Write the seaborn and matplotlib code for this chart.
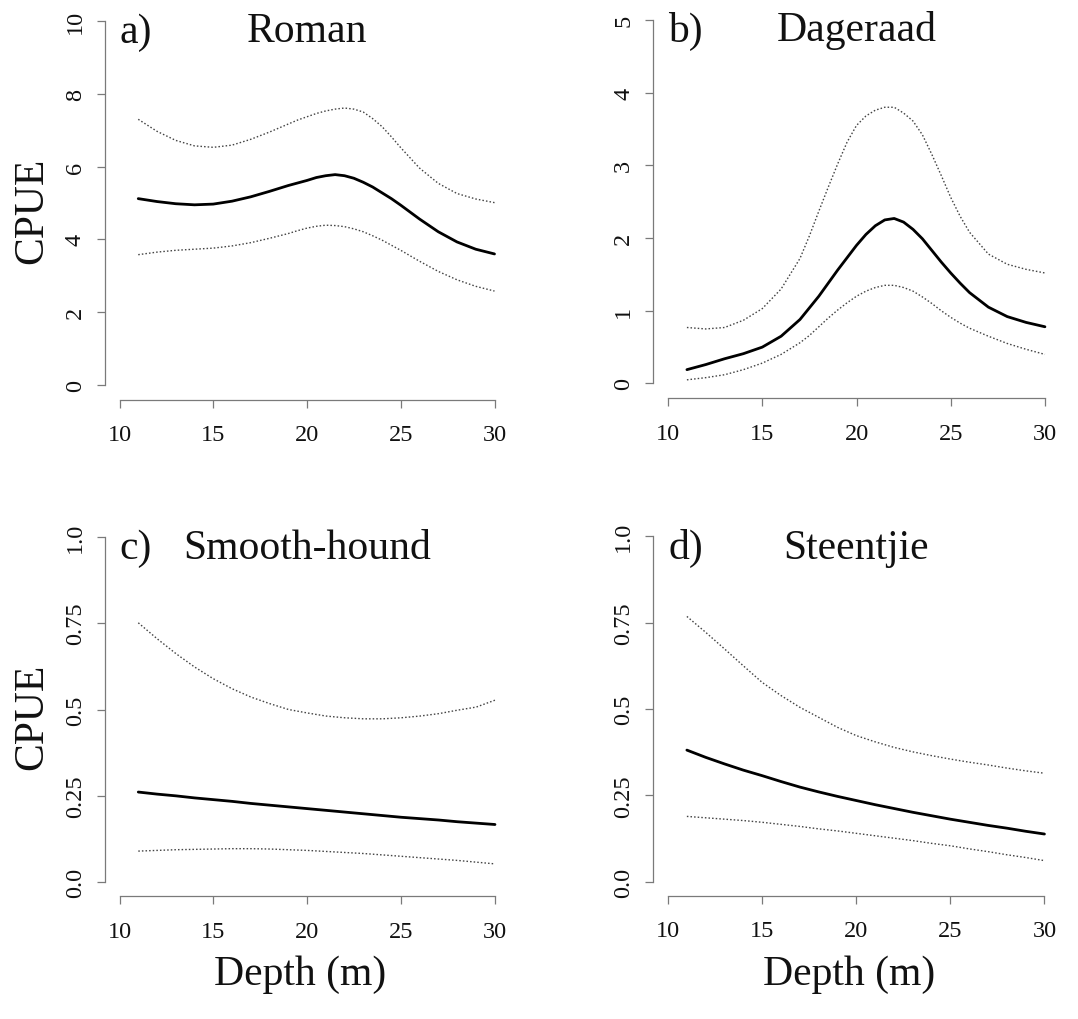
import matplotlib
matplotlib.use("Agg")
import matplotlib.pyplot as plt
import matplotlib.transforms as mtransforms
import pandas as pd
import seaborn as sns

depth_a = [11, 12, 13, 14, 15, 16, 17, 18, 19, 19.5, 20, 20.5, 21, 21.5, 22,
           22.5, 23, 23.5, 24, 24.5, 25, 26, 27, 28, 29, 30]
depth_b = [11, 12, 13, 14, 15, 16, 17, 17.5, 18, 18.5, 19, 19.5, 20, 20.5, 21,
           21.5, 22, 22.5, 23, 23.5, 24, 24.5, 25, 25.5, 26, 27, 28, 29, 30]
depth_cd = list(range(11, 31))

# a) Roman
roman_fit = [5.12, 5.04, 4.98, 4.95, 4.97, 5.05, 5.17, 5.32, 5.48, 5.55, 5.62, 5.70, 5.75,
             5.78, 5.75, 5.68, 5.57, 5.44, 5.28, 5.12, 4.94, 4.56, 4.21, 3.93, 3.73, 3.60]
roman_hi = [7.30, 6.97, 6.72, 6.57, 6.53, 6.59, 6.75, 6.95, 7.17, 7.28, 7.37, 7.46, 7.53,
            7.58, 7.61, 7.58, 7.50, 7.32, 7.10, 6.82, 6.52, 5.96, 5.54, 5.26, 5.11, 5.01]
roman_lo = [3.58, 3.65, 3.70, 3.73, 3.76, 3.82, 3.91, 4.03, 4.16, 4.24, 4.31, 4.36, 4.39,
            4.38, 4.35, 4.29, 4.21, 4.10, 3.98, 3.84, 3.70, 3.40, 3.12, 2.89, 2.71, 2.58]

# b) Dageraad
dag_fit = [0.19, 0.26, 0.34, 0.41, 0.50, 0.65, 0.88, 1.04, 1.20, 1.38, 1.56, 1.73, 1.90, 2.05,
           2.17, 2.25, 2.27, 2.22, 2.12, 1.99, 1.83, 1.67, 1.52, 1.38, 1.25, 1.05, 0.92, 0.84, 0.78]
dag_hi = [0.77, 0.75, 0.77, 0.87, 1.03, 1.30, 1.72, 2.03, 2.37, 2.70, 3.02, 3.32, 3.55, 3.68,
          3.76, 3.80, 3.80, 3.72, 3.61, 3.42, 3.15, 2.86, 2.56, 2.30, 2.08, 1.78, 1.64, 1.57, 1.52]
dag_lo = [0.05, 0.08, 0.12, 0.19, 0.28, 0.40, 0.56, 0.66, 0.78, 0.90, 1.01, 1.11, 1.20, 1.27,
          1.32, 1.35, 1.35, 1.32, 1.27, 1.19, 1.10, 1.00, 0.91, 0.83, 0.76, 0.65, 0.55, 0.47, 0.40]

# c) Smooth-hound
hound_fit = [0.261, 0.255, 0.250, 0.244, 0.239, 0.234, 0.228, 0.223, 0.218, 0.213,
             0.208, 0.203, 0.198, 0.193, 0.188, 0.184, 0.180, 0.175, 0.171, 0.167]
hound_hi = [0.751, 0.705, 0.662, 0.623, 0.589, 0.560, 0.536, 0.517, 0.500, 0.490,
            0.481, 0.476, 0.473, 0.473, 0.476, 0.481, 0.488, 0.498, 0.507, 0.527]
hound_lo = [0.090, 0.092, 0.094, 0.095, 0.096, 0.097, 0.097, 0.096, 0.094, 0.092,
            0.089, 0.086, 0.083, 0.079, 0.075, 0.071, 0.067, 0.063, 0.058, 0.053]

# d) Steentjie
steen_fit = [0.381, 0.360, 0.341, 0.323, 0.307, 0.290, 0.274, 0.260, 0.247, 0.235,
             0.223, 0.212, 0.201, 0.191, 0.181, 0.172, 0.163, 0.155, 0.146, 0.138]
steen_hi = [0.768, 0.722, 0.674, 0.625, 0.577, 0.539, 0.505, 0.476, 0.447, 0.423,
            0.405, 0.389, 0.376, 0.365, 0.355, 0.346, 0.338, 0.329, 0.321, 0.314]
steen_lo = [0.189, 0.185, 0.181, 0.177, 0.172, 0.166, 0.160, 0.153, 0.147, 0.140,
            0.133, 0.126, 0.119, 0.111, 0.104, 0.095, 0.087, 0.078, 0.070, 0.061]

panel_tags = ["a)", "b)", "c)", "d)"]
species = ["Roman", "Dageraad", "Smooth-hound", "Steentjie"]
x_ticks = [10, 15, 20, 25, 30]
y_ticks = [[0, 2, 4, 6, 8, 10], [0, 1, 2, 3, 4, 5],
           [0, 0.25, 0.5, 0.75, 1.0], [0, 0.25, 0.5, 0.75, 1.0]]
y_ticklabels = [["0", "2", "4", "6", "8", "10"], ["0", "1", "2", "3", "4", "5"],
                ["0.0", "0.25", "0.5", "0.75", "1.0"], ["0.0", "0.25", "0.5", "0.75", "1.0"]]
depths = [depth_a, depth_b, depth_cd, depth_cd]
curves = [(roman_fit, roman_hi, roman_lo), (dag_fit, dag_hi, dag_lo),
          (hound_fit, hound_hi, hound_lo), (steen_fit, steen_hi, steen_lo)]

sns.set_theme(style="ticks")
plt.rcParams["font.family"] = ["Liberation Serif", "DejaVu Serif"]

AXIS_GREY = "#7a7a7a"
TEXT = "#111111"
W, H = 1078, 1020
fig = plt.figure(figsize=(W / 100, H / 100), dpi=100)

# plot regions in pixels: left, right, top, bottom
boxes = [(104.5, 509.5, 7.5, 400.5), (653.0, 1060.0, 6.5, 399.0),
         (104.5, 510.0, 524.0, 897.0), (653.0, 1059.5, 523.5, 896.5)]

for i, (l, r, t, b) in enumerate(boxes):
    ax = fig.add_axes([l / W, 1 - b / H, (r - l) / W, (b - t) / H])
    fit, hi, lo = curves[i]
    df = pd.DataFrame({"depth": depths[i], "fit": fit, "hi": hi, "lo": lo})

    for col in ["hi", "lo"]:
        sns.lineplot(data=df, x="depth", y=col, ax=ax, color="#444444", lw=1.0,
                     linestyle=(0, (1.1, 1.5)), estimator=None)
    sns.lineplot(data=df, x="depth", y="fit", ax=ax, color="black", lw=2.0, estimator=None)

    # R style 4% padding around the axis range
    yt = y_ticks[i]
    ypad = (yt[-1] - yt[0]) * 0.04
    ax.set_xlim(10 - 0.8, 30 + 0.8)
    ax.set_ylim(yt[0] - ypad, yt[-1] + ypad)
    ax.set_xticks(x_ticks)
    ax.set_xticklabels([str(v) for v in x_ticks])
    ax.set_yticks(yt)
    ax.set_yticklabels(y_ticklabels[i], rotation=90, va="center")

    sns.despine(ax=ax, trim=True)
    for side in ["left", "bottom"]:
        ax.spines[side].set_color(AXIS_GREY)
        ax.spines[side].set_linewidth(0.9)
    ax.tick_params(axis="both", colors=AXIS_GREY, labelcolor=TEXT, length=5.5,
                   width=0.9, labelsize=17.5)
    ax.tick_params(axis="x", pad=12.5)
    ax.tick_params(axis="y", pad=8)

    ax.set_xlabel("")
    ax.set_ylabel("")

    title_y = 1 - 35 / (b - t)
    trans = mtransforms.blended_transform_factory(ax.transData, ax.transAxes)
    ax.text(10, title_y, panel_tags[i], transform=trans, fontsize=30, ha="left",
            va="baseline", color=TEXT)
    ax.text(0.5, title_y, species[i], transform=ax.transAxes, fontsize=30,
            ha="center", va="baseline", color=TEXT)

    if i % 2 == 0:
        ax.set_ylabel("CPUE", fontsize=30, color=TEXT)
        ax.yaxis.set_label_coords((42 - l) / (r - l), 0.482)
        ax.yaxis.label.set_va("baseline")
    if i >= 2:
        ax.set_xlabel("Depth (m)", fontsize=30, color=TEXT)
        ax.xaxis.set_label_coords(0.483, 1 - (985 - t) / (b - t))
        ax.xaxis.label.set_va("baseline")

fig.savefig("out.png", dpi=100, facecolor="white")
